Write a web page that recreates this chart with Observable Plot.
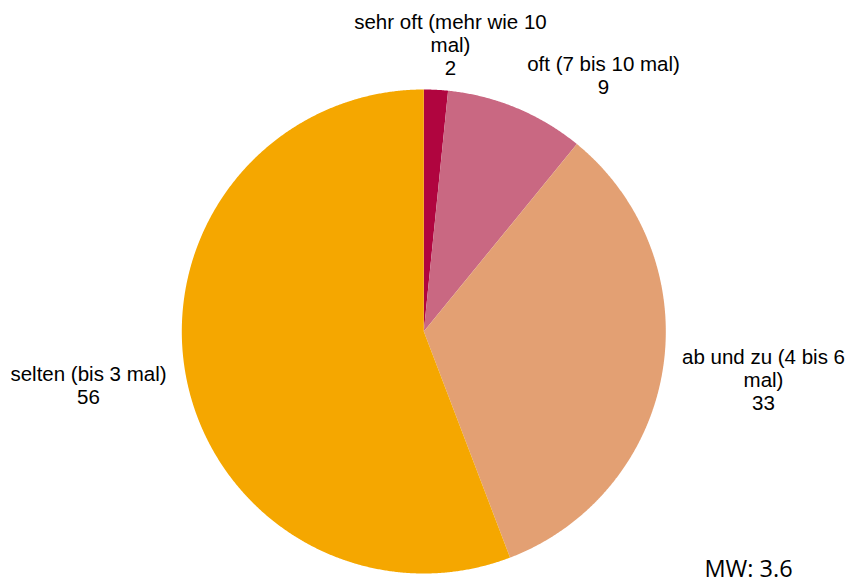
<!DOCTYPE html>
<html>
<head>
<meta charset="utf-8">
<script src="https://cdn.jsdelivr.net/npm/d3@7"></script>
<script src="https://cdn.jsdelivr.net/npm/@observablehq/plot@0.6"></script>
<style>
  html, body { margin: 0; padding: 0; background: #fff; }
  #chart { position: relative; width: 847px; height: 583px; }
</style>
</head>
<body>
<div id="chart"></div>
<script>
// Data
const categories = ["sehr oft (mehr wie 10 mal)", "oft (7 bis 10 mal)", "ab und zu (4 bis 6 mal)", "selten (bis 3 mal)"];
const shares = [1.6, 9.3, 33.3, 55.8];
const shownValues = ["2", "9", "33", "56"];
const labelLines = [
  ["sehr oft (mehr wie 10", "mal)"],
  ["oft (7 bis 10 mal)"],
  ["ab und zu (4 bis 6", "mal)"],
  ["selten (bis 3 mal)"]
];
const colors = ["#b0053f", "#c96882", "#e3a073", "#f5a700"];
const meanLabel = "MW: 3.6";

// Geometry (unit circle in data space)
const W = 847, H = 583;
const R = 242, cx = 423.3, cy = 331;
const xDomain = [-cx / R, (W - cx) / R];
const yDomain = [-(H - cy) / R, cy / R];

const arcs = d3.pie().sort(null).value(d => d.v)(categories.map((c, i) => ({c, v: shares[i]})));

const poly = [];
arcs.forEach((a, i) => {
  const key = categories[i];
  poly.push({key, x: 0, y: 0});
  const n = Math.max(2, Math.ceil((a.endAngle - a.startAngle) / 0.005));
  for (let k = 0; k <= n; k++) {
    const t = a.startAngle + (a.endAngle - a.startAngle) * k / n;
    poly.push({key, x: Math.sin(t), y: Math.cos(t)});
  }
  poly.push({key, x: 0, y: 0});
});

// Label anchor positions (data units), lines placed downward from there
const labelPos = [
  {x: (450 - cx) / R, y: (cy - 28) / R},
  {x: (603 - cx) / R, y: (cy - 70) / R},
  {x: (763 - cx) / R, y: (cy - 363) / R},
  {x: (88 - cx) / R, y: (cy - 380) / R}
];
const lineStep = 23 / R;
const textRows = [];
labelLines.forEach((lines, i) => {
  const all = [...lines, shownValues[i]];
  all.forEach((t, j) => textRows.push({x: labelPos[i].x, y: labelPos[i].y - j * lineStep, t}));
});

const plot = Plot.plot({
  width: W,
  height: H,
  margin: 0,
  x: {domain: xDomain, axis: null},
  y: {domain: yDomain, axis: null},
  color: {domain: categories, range: colors},
  style: {fontFamily: "Liberation Sans, Arial, sans-serif", background: "#fff"},
  marks: [
    Plot.line(poly, {x: "x", y: "y", z: "key", fill: "key", stroke: null, curve: "linear"}),
    Plot.text(textRows, {x: "x", y: "y", text: "t", fontSize: 20.5, fill: "#000", lineAnchor: "bottom", textAnchor: "middle"}),
    Plot.text([meanLabel], {x: [(748 - cx) / R], y: [(cy - 576) / R], text: d => d, fontSize: 23.5, fill: "#000", fontFamily: "Open Sans, sans-serif", lineAnchor: "bottom"})
  ]
});
document.getElementById("chart").appendChild(plot);
</script>
</body>
</html>
